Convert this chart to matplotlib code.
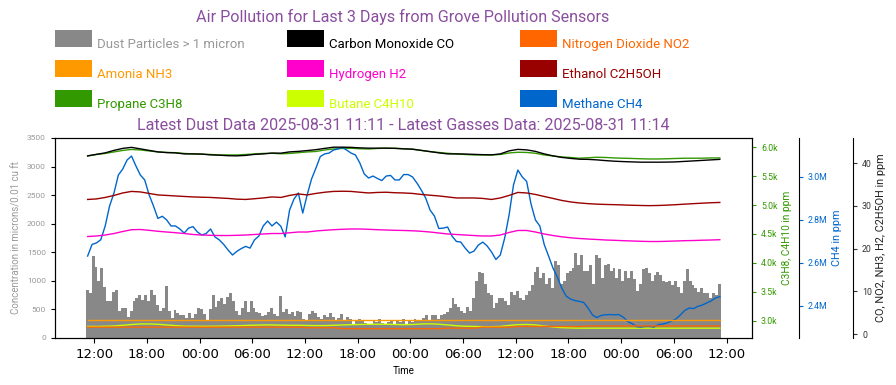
import numpy as np
import pandas as pd
import matplotlib
matplotlib.use('Agg')
import matplotlib.pyplot as plt
import matplotlib.dates as mdates
from matplotlib.patches import Rectangle
from matplotlib.ticker import FuncFormatter

plt.rcParams['font.family'] = ['Roboto', 'DejaVu Sans']

# ---- data ----
dust_start = '2025-08-28 11:11'   # 20 min samples
gas_start = '2025-08-28 11:14'    # hourly samples
ch4_start = '2025-08-28 11:14'    # 30 min samples

dust = [840, 780, 1440, 1250, 1000, 1220, 900, 640, 640, 800,
        845, 480, 525, 525, 370, 470, 640, 700, 758, 670,
        760, 640, 845, 758, 583, 470, 525, 904, 466, 350,
        495, 437, 400, 408, 350, 437, 350,
        420, 520, 500, 420, 320, 500, 760, 550, 650, 700,
        600, 720, 780, 640, 480, 400, 520, 640, 460, 640,
        520, 460, 430, 380, 400, 460, 520, 420, 380, 740,
        460, 500, 420, 460, 380, 470,
        450, 330, 300, 420, 480, 440, 370, 330, 400, 370,
        440, 360, 300, 350, 420, 300, 370, 330, 250, 300,
        330, 300, 260, 220, 250, 300, 280, 330, 270, 250,
        280, 300, 250, 300, 280, 330,
        250, 300, 280, 330, 320, 300, 350, 400, 290, 410,
        410, 330, 410, 420, 450, 520, 700, 600, 540, 480,
        430, 540, 470, 700, 990, 1150, 1130, 940, 780, 760,
        520, 620, 700, 700, 640, 580,
        800, 760, 820, 700, 660, 750, 820, 930, 1150, 1250,
        1050, 1130, 940, 1050, 880, 1340, 1280, 940, 1000, 1130,
        1170, 1230, 1490, 1280, 1460, 1170, 1170, 1280, 940, 1460,
        1400, 1050, 1280, 1300, 1170, 1230,
        1050, 1200, 1000, 1170, 1050, 1170, 1040, 820, 950, 1200,
        1220, 1130, 1000, 1110, 1150, 1100, 1000, 980, 1000, 930,
        1000, 900, 780, 1000, 1200, 1000, 930, 880, 800, 870,
        780, 780, 700, 790, 760, 940]

co = [41.72, 42.07, 42.42, 43.0, 43.47, 43.71, 43.36, 43.0, 42.65, 42.49,
      42.42, 42.18, 42.18, 42.14, 41.95, 41.88, 41.76, 41.72, 41.83, 42.07,
      42.18, 42.37, 42.35, 42.65, 42.77, 42.96, 43.17, 43.47, 43.75, 43.75,
      43.71, 43.59, 43.52, 43.52, 43.52, 43.47, 43.36, 43.29, 43.0, 42.72,
      42.42, 42.18, 42.18, 42.14, 42.07, 42.0, 41.95, 42.18, 42.89, 43.24,
      43.12, 42.77, 42.18, 41.72, 41.36, 41.13, 40.94, 40.9, 40.78, 40.61,
      40.47, 40.38, 40.31, 40.24, 40.24, 40.24, 40.26, 40.31, 40.43, 40.54,
      40.66, 40.78, 40.9]

no2 = [1.64, 1.64, 1.64, 1.64, 1.64, 1.64, 1.64, 1.64, 1.64, 1.64,
       1.64, 1.64, 1.64, 1.64, 1.64, 1.64, 1.64, 1.64, 1.64, 1.64,
       1.64, 1.64, 1.64, 1.64, 1.64, 1.52, 1.52, 1.52, 1.52, 1.29,
       1.29, 1.29, 1.29, 1.29, 1.29, 1.29, 1.29, 1.29, 1.29, 1.29,
       1.29, 1.41, 1.41, 1.41, 1.41, 1.64, 1.64, 1.64, 1.64, 1.80,
       1.80, 1.80, 1.80, 1.80, 1.80, 1.80, 1.80, 1.92, 1.92, 1.92,
       1.92, 1.92, 1.92, 1.92, 1.92, 1.92, 1.92, 1.92, 1.92, 1.92,
       1.92, 1.92, 1.92]

nh3 = [3.35, 3.35, 3.35, 3.35, 3.35, 3.35, 3.35, 3.35, 3.35, 3.35,
       3.35, 3.35, 3.35, 3.35, 3.35, 3.35, 3.35, 3.35, 3.35, 3.35,
       3.35, 3.35, 3.35, 3.35, 3.35, 3.35, 3.35, 3.35, 3.35, 3.35,
       3.35, 3.35, 3.35, 3.35, 3.35, 3.35, 3.35, 3.35, 3.35, 3.35,
       3.35, 3.35, 3.35, 3.35, 3.35, 3.35, 3.35, 3.35, 3.35, 3.35,
       3.35, 3.35, 3.35, 3.35, 3.35, 3.35, 3.35, 3.35, 3.35, 3.35,
       3.35, 3.35, 3.35, 3.35, 3.35, 3.35, 3.35, 3.35, 3.35, 3.35,
       3.35, 3.35, 3.35]

h2 = [22.85, 22.97, 23.20, 23.55, 24.02, 24.44, 24.49, 24.30, 24.07, 23.90,
      23.74, 23.55, 23.32, 23.20, 23.13, 23.08, 23.08, 23.13, 23.20, 23.32,
      23.44, 23.55, 23.55, 23.72, 23.90, 23.90, 24.14, 24.30, 24.44, 24.54,
      24.61, 24.61, 24.54, 24.44, 24.37, 24.30, 24.26, 24.19, 24.07, 23.90,
      23.67, 23.44, 23.32, 23.20, 23.08, 22.97, 22.97, 23.20, 23.79, 24.26,
      24.26, 23.90, 23.44, 23.08, 22.78, 22.55, 22.38, 22.26, 22.15, 22.03,
      21.96, 21.87, 21.80, 21.73, 21.68, 21.68, 21.73, 21.80, 21.87, 21.91,
      21.98, 22.03, 22.10]

ethanol = [31.52, 31.64, 31.99, 32.46, 33.04, 33.40, 33.28, 32.93, 32.58, 32.46,
           32.34, 32.22, 32.11, 32.04, 31.99, 31.87, 31.76, 31.59, 31.52, 31.69,
           31.87, 32.11, 31.99, 32.46, 32.81, 32.58, 32.93, 33.21, 33.40, 33.44,
           33.40, 33.21, 33.04, 33.16, 33.21, 33.09, 33.04, 32.93, 32.69, 32.51,
           32.34, 32.11, 31.87, 31.87, 31.87, 31.76, 31.52, 31.87, 32.46, 33.16,
           33.04, 32.69, 32.22, 31.76, 31.29, 30.94, 30.70, 30.54, 30.42, 30.35,
           30.30, 30.23, 30.16, 30.11, 30.07, 30.11, 30.19, 30.30, 30.42, 30.54,
           30.65, 30.75, 30.82]

propane = [5849, 5875, 5893, 5919, 5945, 5962, 5953, 5936, 5919, 5910,
           5906, 5893, 5884, 5880, 5875, 5867, 5867, 5867, 5875, 5884,
           5893, 5896, 5887, 5893, 5906, 5919, 5927, 5953, 5970, 5979,
           5983, 5974, 5970, 5979, 5983, 5983, 5974, 5965, 5945, 5924,
           5910, 5896, 5884, 5875, 5867, 5867, 5867, 5875, 5901, 5913,
           5910, 5896, 5867, 5849, 5832, 5823, 5810, 5818, 5827, 5823,
           5815, 5810, 5806, 5801, 5797, 5797, 5801, 5806, 5810, 5810,
           5811, 5815, 5815]

butane = [2900, 2900, 2903, 2908, 2920, 2934, 2943, 2943, 2938, 2926,
          2914, 2905, 2903, 2903, 2903, 2905, 2908, 2912, 2917, 2922,
          2926, 2926, 2922, 2920, 2920, 2917, 2915, 2915, 2920, 2926,
          2931, 2934, 2938, 2938, 2938, 2934, 2931, 2934, 2943, 2946,
          2939, 2926, 2912, 2903, 2900, 2896, 2896, 2900, 2917, 2931,
          2934, 2926, 2908, 2891, 2879, 2874, 2870, 2870, 2870, 2870,
          2870, 2870, 2870, 2870, 2870, 2870, 2870, 2870, 2870, 2870,
          2870, 2870, 2870]

# methane in millions of ppm
methane = [2.631, 2.685, 2.692, 2.707, 2.771, 2.864, 2.924, 3.008, 3.036, 3.078,
           3.096, 3.050, 3.008, 2.985, 2.916, 2.864, 2.806, 2.816, 2.799, 2.771,
           2.771, 2.757, 2.738, 2.761, 2.768,
           2.743, 2.729, 2.736, 2.757, 2.720, 2.706, 2.685, 2.659, 2.636, 2.653,
           2.666, 2.676, 2.668, 2.706, 2.724, 2.771, 2.794, 2.771, 2.789, 2.770,
           2.720, 2.845, 2.896, 2.924,
           2.831, 2.915, 2.989, 3.040, 3.094, 3.106, 3.110, 3.124, 3.129, 3.136,
           3.124, 3.110, 3.101, 3.064, 3.013, 2.994, 3.003, 2.992, 2.982, 3.003,
           3.006, 2.985, 2.985, 3.010, 3.010, 2.999, 2.971, 2.938, 2.901, 2.845,
           2.817, 2.759, 2.761, 2.766, 2.724, 2.699, 2.696, 2.668, 2.645, 2.654,
           2.682, 2.696, 2.678, 2.650, 2.615, 2.636, 2.715,
           2.822, 2.961, 3.031, 2.999, 2.978, 2.873, 2.799, 2.771, 2.685, 2.631,
           2.575, 2.533, 2.482, 2.445, 2.431, 2.424, 2.420, 2.415, 2.389, 2.357,
           2.345, 2.355, 2.358, 2.359, 2.358,
           2.359, 2.347, 2.327, 2.317, 2.303, 2.301, 2.304, 2.304, 2.301, 2.312,
           2.315, 2.320, 2.329, 2.338, 2.357, 2.378, 2.389, 2.387, 2.397, 2.403,
           2.413, 2.422, 2.436, 2.442]

dust_t = pd.date_range(dust_start, periods=len(dust), freq='20min')
gas_t = pd.date_range(gas_start, periods=len(co), freq='60min')
ch4_t = pd.date_range(ch4_start, periods=len(methane), freq='30min')

legend_rows = [
    [('Dust Particles > 1 micron', '#888888', '#999999'),
     ('Carbon Monoxide CO', '#000000', '#000000'),
     ('Nitrogen Dioxide NO2', '#FF6600', '#FF6600')],
    [('Amonia NH3', '#FF9900', '#FF9900'),
     ('Hydrogen H2', '#FF00CC', '#FF00CC'),
     ('Ethanol C2H5OH', '#990000', '#990000')],
    [('Propane C3H8', '#339900', '#339900'),
     ('Butane C4H10', '#CCFF00', '#CCFF00'),
     ('Methane CH4', '#0066CC', '#0066CC')],
]

W, H = 896, 385
fig = plt.figure(figsize=(W / 100, H / 100), dpi=100)
ax = fig.add_axes([55 / W, 1 - 338 / H, 697 / W, 200 / H])

# dust bars
ax.bar(dust_t, dust, width=20 / 1440, color='#888888', linewidth=0, align='center')
ax.set_ylim(0, 3500)
ax.set_yticks(np.arange(0, 3501, 500))
ax.tick_params(axis='y', labelsize=6, labelcolor='#999999', length=3)
ax.set_ylabel('Concentration in microns/0.01 cu ft', fontsize=7, color='#999999', labelpad=4)
ax.set_xlabel('Time', fontsize=7, labelpad=4)

ax.set_xlim(pd.Timestamp('2025-08-28 07:31'), pd.Timestamp('2025-08-31 14:54'))
ax.xaxis.set_major_locator(mdates.HourLocator(byhour=[0, 6, 12, 18]))
ax.xaxis.set_major_formatter(mdates.DateFormatter('%H:%M'))
for lab in ax.get_xticklabels():
    lab.set_fontfamily('DejaVu Sans')
    lab.set_fontsize(9.5)

# propane / butane
ax2 = ax.twinx()
ax2.plot(gas_t, propane, color='#339900', lw=1.0)
ax2.plot(gas_t, butane, color='#CCFF00', lw=1.0)
ax2.set_ylim(2700, 6160)
ax2.set_yticks([3000, 3500, 4000, 4500, 5000, 5500, 6000])
ax2.yaxis.set_major_formatter(FuncFormatter(lambda v, p: '%.1fk' % (v / 1000)))
ax2.tick_params(axis='y', labelsize=6.3, colors='#339900', length=3)
ax2.set_ylabel('C3H8, C4H10 in ppm', fontsize=7.3, color='#339900', labelpad=3)

# methane
ax3 = ax.twinx()
ax3.plot(ch4_t, np.array(methane) * 1e6, color='#0066CC', lw=1.0)
ax3.set_ylim(2.25e6, 3.18e6)
ax3.set_yticks([2.4e6, 2.6e6, 2.8e6, 3.0e6])
ax3.yaxis.set_major_formatter(FuncFormatter(lambda v, p: '%.1fM' % (v / 1e6)))
ax3.spines['right'].set_position(('axes', 1 + 47 / 697))
ax3.tick_params(axis='y', labelsize=6.3, colors='#0066CC', length=3)
ax3.spines['right'].set_color('black')
for s in ['top', 'left', 'bottom']:
    ax3.spines[s].set_visible(False)
ax3.set_ylabel('CH4 in ppm', fontsize=7.8, color='#0066CC', labelpad=3)

# CO, NO2, NH3, H2, C2H5OH
ax4 = ax.twinx()
ax4.plot(gas_t, co, color='#000000', lw=1.0)
ax4.plot(gas_t, no2, color='#FF6600', lw=1.0)
ax4.plot(gas_t, nh3, color='#FF9900', lw=1.0)
ax4.plot(gas_t, h2, color='#FF00CC', lw=1.0)
ax4.plot(gas_t, ethanol, color='#990000', lw=1.0)
ax4.set_ylim(-0.9, 45.9)
ax4.set_yticks([0, 10, 20, 30, 40])
ax4.spines['right'].set_position(('axes', 1 + 101 / 697))
ax4.tick_params(axis='y', labelsize=6.3, colors='#333333', length=3)
for s in ['top', 'left', 'bottom']:
    ax4.spines[s].set_visible(False)
ax4.set_ylabel('CO, NO2, NH3, H2, C2H5OH in ppm', fontsize=7.8, color='#222222', labelpad=3)

for a in (ax2, ax3, ax4):
    a.set_xlim(ax.get_xlim())

# titles
purple = '#8A4E9E'
fig.text(403 / W, 1 - 17 / H, 'Air Pollution for Last 3 Days from Grove Pollution Sensors',
         ha='center', va='center', fontsize=11.6, color=purple)
fig.text(403 / W, 1 - 125 / H,
         'Latest Dust Data 2025-08-31 11:11 - Latest Gasses Data: 2025-08-31 11:14',
         ha='center', va='center', fontsize=11.6, color=purple)

# legend (3 x 3 grid of swatches)
col_x = [55, 287, 520]
row_y = [30, 60, 90]
for r, row in enumerate(legend_rows):
    for c, (label, fc, tc) in enumerate(row):
        fig.patches.append(Rectangle((col_x[c] / W, 1 - (row_y[r] + 17) / H), 37 / W, 17 / H,
                                     transform=fig.transFigure, facecolor=fc, edgecolor='none'))
        fig.text((col_x[c] + 42) / W, 1 - (row_y[r] + 18) / H, label, ha='left', va='baseline',
                 fontsize=9.5, color=tc)

fig.savefig('out.png', dpi=100)
